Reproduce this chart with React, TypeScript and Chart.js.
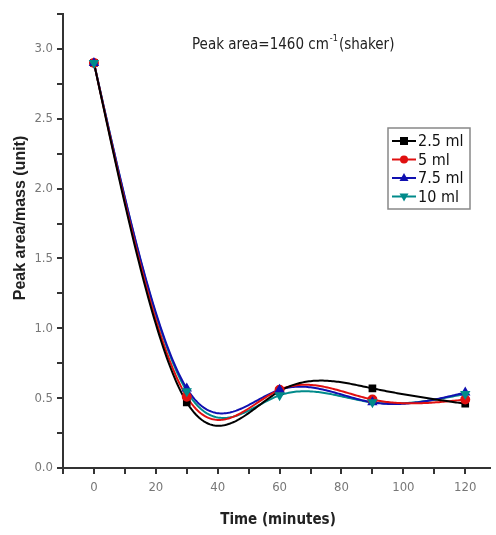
import React, { useEffect, useRef } from "react";
import { Chart, registerables } from "chart.js";

Chart.register(...registerables);

const times = [0, 30, 60, 90, 120];
const seriesLabels = ["2.5 ml", "5 ml", "7.5 ml", "10 ml"];
const s25 = [2.9, 0.47, 0.55, 0.57, 0.46];
const s5 = [2.9, 0.51, 0.56, 0.49, 0.49];
const s75 = [2.9, 0.57, 0.56, 0.47, 0.54];
const s10 = [2.9, 0.55, 0.52, 0.47, 0.53];
const chartTitle = "Peak area=1460 cm";
const chartTitleSup = "-1";
const chartTitleEnd = "(shaker)";
const xTitle = "Time (minutes)";
const yTitle = "Peak area/mass (unit)";

const colors = ["#000000", "#e01010", "#1010b0", "#008a8a"];
const styles: any[] = ["rect", "circle", "triangle", "triangle"];
const rotations = [0, 0, 0, 180];

const FONT = "'Liberation Sans Narrow', 'DejaVu Sans Condensed', 'Liberation Sans', Arial, sans-serif";

// natural cubic spline second derivatives
function splineM(xs: number[], ys: number[]): number[] {
  const n = xs.length;
  const a = new Array(n).fill(0), b = new Array(n).fill(0), c = new Array(n).fill(0), d = new Array(n).fill(0);
  b[0] = 1; b[n - 1] = 1;
  for (let i = 1; i < n - 1; i++) {
    const h0 = xs[i] - xs[i - 1], h1 = xs[i + 1] - xs[i];
    a[i] = h0; b[i] = 2 * (h0 + h1); c[i] = h1;
    d[i] = 6 * ((ys[i + 1] - ys[i]) / h1 - (ys[i] - ys[i - 1]) / h0);
  }
  for (let i = 1; i < n; i++) {
    const m = a[i] / b[i - 1];
    b[i] -= m * c[i - 1];
    d[i] -= m * d[i - 1];
  }
  const M = new Array(n).fill(0);
  M[n - 1] = d[n - 1] / b[n - 1];
  for (let i = n - 2; i >= 0; i--) M[i] = (d[i] - c[i] * M[i + 1]) / b[i];
  return M;
}

function splineAt(xs: number[], ys: number[], M: number[], x: number): number {
  let i = 0;
  while (i < xs.length - 2 && x > xs[i + 1]) i++;
  const h = xs[i + 1] - xs[i];
  const A = (xs[i + 1] - x), B = (x - xs[i]);
  return (M[i] * A * A * A + M[i + 1] * B * B * B) / (6 * h)
    + (ys[i] / h - M[i] * h / 6) * A + (ys[i + 1] / h - M[i + 1] * h / 6) * B;
}

function drawMarker(ctx: CanvasRenderingContext2D, i: number, x: number, y: number) {
  ctx.save();
  ctx.fillStyle = colors[i];
  const r = 4;
  ctx.beginPath();
  if (i === 0) {
    ctx.rect(x - r, y - r, 2 * r, 2 * r);
  } else if (i === 1) {
    ctx.arc(x, y, r, 0, Math.PI * 2);
  } else if (i === 2) {
    ctx.moveTo(x, y - r - 1);
    ctx.lineTo(x + r + 0.5, y + r - 1);
    ctx.lineTo(x - r - 0.5, y + r - 1);
    ctx.closePath();
  } else {
    ctx.moveTo(x, y + r + 1);
    ctx.lineTo(x + r + 0.5, y - r + 1);
    ctx.lineTo(x - r - 0.5, y - r + 1);
    ctx.closePath();
  }
  ctx.fill();
  ctx.restore();
}

const splinePlugin = {
  id: "splines",
  beforeDatasetsDraw(chart: any) {
    const ctx: CanvasRenderingContext2D = chart.ctx;
    const xs = chart.scales.x, ys = chart.scales.y;
    const area = chart.chartArea;
    ctx.save();
    ctx.beginPath();
    ctx.rect(area.left, area.top, area.right - area.left, area.bottom - area.top);
    ctx.clip();
    const all = [s25, s5, s75, s10];
    for (let k = all.length - 1; k >= 0; k--) {
      const arr = all[k];
      const M = splineM(times, arr);
      ctx.strokeStyle = colors[k];
      ctx.lineWidth = 2;
      ctx.lineJoin = "round";
      ctx.beginPath();
      const x0 = times[0], x1 = times[times.length - 1];
      const steps = 240;
      for (let s = 0; s <= steps; s++) {
        const xv = x0 + (x1 - x0) * s / steps;
        const yv = splineAt(times, arr, M, xv);
        const px = xs.getPixelForValue(xv), py = ys.getPixelForValue(yv);
        if (s === 0) ctx.moveTo(px, py); else ctx.lineTo(px, py);
      }
      ctx.stroke();
    }
    ctx.restore();
  },
};

const overlayPlugin = {
  id: "overlay",
  afterDraw(chart: any) {
    const ctx: CanvasRenderingContext2D = chart.ctx;
    ctx.save();
    ctx.fillStyle = "#222";
    ctx.textBaseline = "middle";
    ctx.font = `15px ${FONT}`;
    let x = 192;
    const ty = 45;
    ctx.textAlign = "left";
    ctx.fillText(chartTitle, x, ty);
    x += ctx.measureText(chartTitle).width + 1;
    ctx.font = `9px ${FONT}`;
    ctx.fillText(chartTitleSup, x, ty - 6);
    x += ctx.measureText(chartTitleSup).width + 1;
    ctx.font = `15px ${FONT}`;
    ctx.fillText(chartTitleEnd, x, ty);

    const bx = 388, by = 128, bw = 82, bh = 81;
    ctx.strokeStyle = "#888";
    ctx.lineWidth = 1.5;
    ctx.strokeRect(bx, by, bw, bh);
    const rowY = [141, 159.5, 178, 196.5];
    for (let i = 0; i < 4; i++) {
      const yy = rowY[i];
      ctx.strokeStyle = colors[i];
      ctx.lineWidth = 2;
      ctx.beginPath();
      ctx.moveTo(392, yy);
      ctx.lineTo(416, yy);
      ctx.stroke();
      drawMarker(ctx, i, 404, yy);
      ctx.fillStyle = "#111";
      ctx.font = `16px ${FONT}`;
      ctx.textAlign = "left";
      ctx.fillText(seriesLabels[i], 418, yy + 1);
    }

    ctx.fillStyle = "#222";
    ctx.font = `bold 15px ${FONT}`;
    ctx.textAlign = "center";
    ctx.fillText(xTitle, 278, 520);
    ctx.save();
    ctx.translate(21, 218);
    ctx.rotate(-Math.PI / 2);
    ctx.font = `bold 16px 'Liberation Sans', Arial, sans-serif`;
    ctx.fillText(yTitle, 0, 0);
    ctx.restore();
    ctx.restore();
  },
};

export default function App() {
  const ref = useRef<HTMLCanvasElement>(null);
  useEffect(() => {
    document.body.style.margin = "0";
    const datasets = [s25, s5, s75, s10].map((arr, i) => ({
      label: seriesLabels[i],
      data: times.map((t, j) => ({ x: t, y: arr[j] })),
      borderColor: colors[i],
      backgroundColor: colors[i],
      borderWidth: 2,
      pointStyle: styles[i],
      pointRotation: rotations[i],
      pointRadius: 4,
      showLine: false,
      fill: false,
      order: 3 - i,
    }));
    const chart = new Chart(ref.current!, {
      type: "line",
      data: { datasets },
      plugins: [splinePlugin, overlayPlugin],
      options: {
        animation: false,
        responsive: false,
        layout: { padding: { top: 14, right: 0, left: 0, bottom: 0 } },
        plugins: { legend: { display: false }, tooltip: { enabled: false }, title: { display: false } },
        scales: {
          x: {
            type: "linear",
            min: -10,
            max: 128,
            border: { color: "#333", width: 2 },
            grid: { drawOnChartArea: false, drawTicks: true, tickLength: 6, color: "#333", lineWidth: 2 },
            ticks: {
              stepSize: 10,
              includeBounds: false,
              maxRotation: 0,
              autoSkip: false,
              color: "#777",
              padding: 6,
              font: { family: FONT, size: 13 },
              callback: (v: any) => (v >= 0 && v % 20 === 0 ? String(v) : ""),
            },
            afterFit: (s: any) => { s.height = 67; },
          },
          y: {
            type: "linear",
            min: 0,
            max: 3.25,
            border: { color: "#333", width: 2 },
            grid: { drawOnChartArea: false, drawTicks: true, tickLength: 6, color: "#333", lineWidth: 2 },
            ticks: {
              stepSize: 0.25,
              autoSkip: false,
              color: "#777",
              padding: 4,
              font: { family: FONT, size: 13 },
              callback: (v: any) => (Math.abs((v * 2) - Math.round(v * 2)) < 1e-6 ? Number(v).toFixed(1) : ""),
            },
            afterFit: (s: any) => { s.width = 63; },
          },
        },
      },
    });
    return () => chart.destroy();
  }, []);
  return <canvas ref={ref} width={496} height={535} style={{ display: "block" }} />;
}
